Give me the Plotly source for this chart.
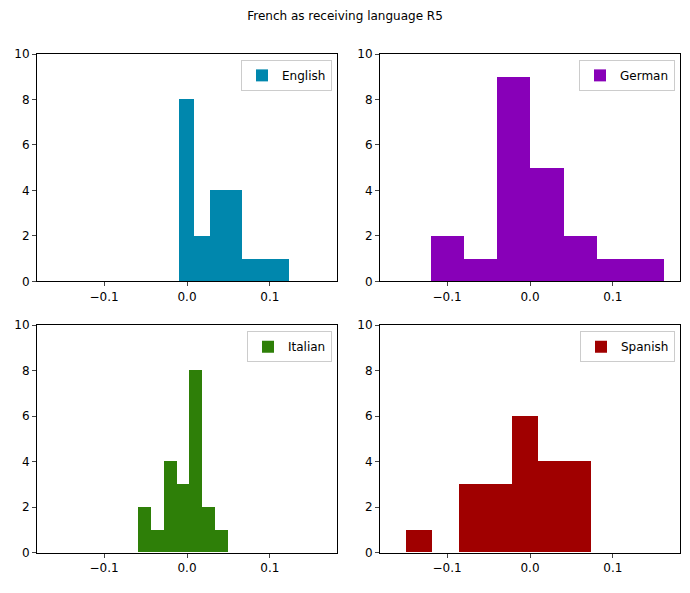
import plotly.graph_objects as go

# bin edges and counts
english_edges = [-0.010, 0.009, 0.028, 0.047, 0.066, 0.085, 0.104, 0.123]
english_counts = [8, 2, 4, 4, 1, 1, 1]
german_edges = [-0.120, -0.080, -0.040, 0.000, 0.041, 0.081, 0.122, 0.162]
german_counts = [2, 1, 9, 5, 2, 1, 1]
italian_edges = [-0.059, -0.0435, -0.028, -0.0125, 0.003, 0.0185, 0.034, 0.0495]
italian_counts = [2, 1, 4, 3, 8, 2, 1]
spanish_edges = [-0.150, -0.118, -0.086, -0.054, -0.022, 0.010, 0.042, 0.074]
spanish_counts = [1, 0, 3, 3, 6, 4, 4]

panels = [
    ("English", english_edges, english_counts, "#0087AD", "x", "y"),
    ("German", german_edges, german_counts, "#8800B8", "x2", "y2"),
    ("Italian", italian_edges, italian_counts, "#2E7F08", "x3", "y3"),
    ("Spanish", spanish_edges, spanish_counts, "#A00000", "x4", "y4"),
]

# page has an 8px body margin, so the figure is drawn smaller and offset
OFF = 8
W, H = 690 - 2 * OFF, 593 - 2 * OFF
doms_x = [(37, 337), (380, 680), (37, 337), (380, 680)]
doms_y = [(48, 281), (48, 281), (326, 559), (326, 559)]

fig = go.Figure()
layout = dict(
    width=W, height=H, margin=dict(l=0, r=0, t=0, b=0),
    plot_bgcolor="white", paper_bgcolor="white",
    font=dict(family="DejaVu Sans", size=12, color="black"),
    title=dict(text="French as receiving language R5", x=(345 - OFF) / W, xanchor="center",
               y=1 - (16 - OFF) / H, yanchor="middle", font=dict(size=12)),
    bargap=0,
)
for i, (name, edges, counts, color, xa, ya) in enumerate(panels):
    centers = [(edges[k] + edges[k + 1]) / 2 for k in range(len(counts))]
    widths = [edges[k + 1] - edges[k] for k in range(len(counts))]
    lg = "legend" if i == 0 else f"legend{i + 1}"
    fig.add_trace(go.Bar(x=centers, y=counts, width=widths, name=name,
                         marker=dict(color=color, line=dict(width=0)),
                         xaxis=xa, yaxis=ya, legend=lg, showlegend=True))
    sfx = "" if i == 0 else str(i + 1)
    x0, x1 = (v - OFF for v in doms_x[i])
    y0, y1 = (v - OFF for v in doms_y[i])
    axstyle = dict(showline=True, linecolor="black", linewidth=1, mirror=True,
                   ticks="outside", ticklen=4, showgrid=False, zeroline=False)
    layout["xaxis" + sfx] = dict(domain=[x0 / W, x1 / W], range=[-0.181, 0.181],
                                 tickvals=[-0.1, 0, 0.1], ticktext=["−0.1", "0.0", "0.1"],
                                 anchor=ya, **axstyle)
    layout["yaxis" + sfx] = dict(domain=[1 - y1 / H, 1 - y0 / H], range=[0, 10],
                                 tickvals=[0, 2, 4, 6, 8, 10], anchor=xa, **axstyle)
    layout[lg] = dict(x=(x1 - 5) / W, y=1 - (y0 + 6) / H, xanchor="right", yanchor="top",
                      bordercolor="#cccccc", borderwidth=1, bgcolor="white",
                      font=dict(size=12), tracegroupgap=0, itemwidth=30)
fig.update_layout(**layout)
fig.write_html("out.html")
